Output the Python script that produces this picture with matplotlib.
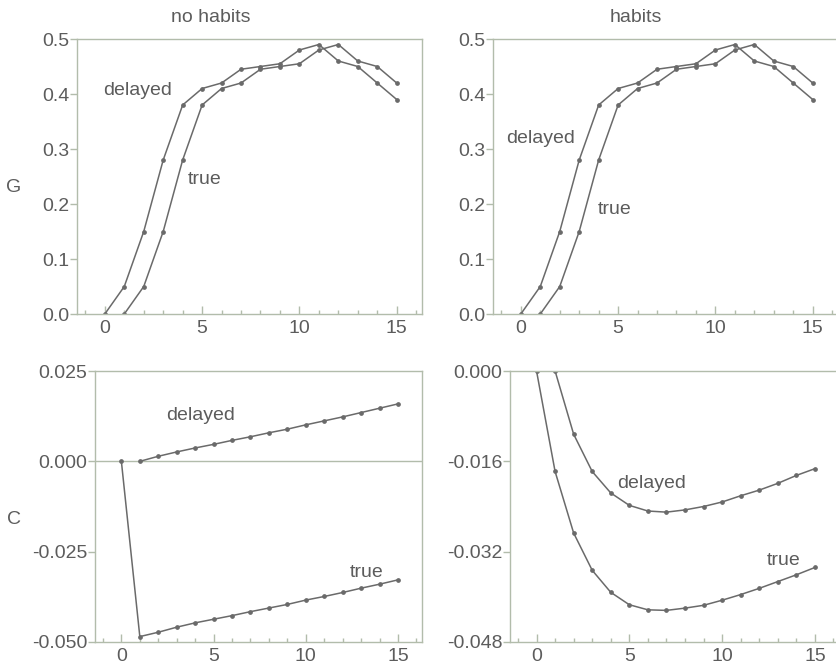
import numpy as np
import matplotlib
matplotlib.use('Agg')
import matplotlib.pyplot as plt
from matplotlib.ticker import MultipleLocator

plt.rcParams['font.family'] = ['Liberation Sans', 'DejaVu Sans']

# G response, same in both columns
g_x_early = np.arange(0, 16)
g_delayed = [0.0, 0.05, 0.15, 0.28, 0.38, 0.41, 0.42, 0.445, 0.45, 0.455,
             0.48, 0.49, 0.46, 0.45, 0.42, 0.39]
g_x_late = np.arange(1, 16)
g_true = [0.0, 0.05, 0.15, 0.28, 0.38, 0.41, 0.42, 0.445, 0.45, 0.455,
          0.48, 0.49, 0.46, 0.45, 0.42]

# C response, no habits
c_nh_x_true = np.arange(0, 16)
c_nh_true = [0.0, -0.0485, -0.0473, -0.0459, -0.0447, -0.0437, -0.0427, -0.0416,
             -0.0406, -0.0396, -0.0384, -0.0374, -0.0363, -0.0351, -0.034, -0.0328]
c_nh_x_del = np.arange(1, 16)
c_nh_delayed = [0.0, 0.0014, 0.0026, 0.0037, 0.0047, 0.0058, 0.0068, 0.0079,
                0.0089, 0.0101, 0.0112, 0.0123, 0.0135, 0.0147, 0.0159]

# C response, habits
c_h_x_true = np.arange(0, 16)
c_h_true = [0.0, -0.0178, -0.0287, -0.0353, -0.0392, -0.0414, -0.0423, -0.0424,
            -0.0420, -0.0415, -0.0406, -0.0396, -0.0385, -0.0373, -0.0361, -0.0348]
c_h_x_del = np.arange(1, 16)
c_h_delayed = [0.0, -0.0112, -0.0178, -0.0216, -0.0238, -0.0248, -0.025, -0.0246,
               -0.024, -0.0232, -0.0221, -0.0211, -0.0199, -0.0185, -0.0173]

line_col = '#6a6a6a'
frame_col = '#b2bcab'
text_col = '#5c5c5c'
fs = 14

fig = plt.figure(figsize=(8.36, 6.70), dpi=100)
W, H = 836, 670


def make_ax(left, right, top, bottom):
    return fig.add_axes([left / W, 1 - bottom / H, (right - left) / W, (bottom - top) / H])


def style(ax, ylim, yticks, yfmt):
    ax.set_xlim(-1.43, 16.3)
    ax.set_ylim(*ylim)
    ax.set_yticks(yticks)
    ax.set_yticklabels([yfmt % v for v in yticks])
    ax.set_xticks([0, 5, 10, 15])
    ax.xaxis.set_minor_locator(MultipleLocator(1))
    for s in ax.spines.values():
        s.set_color(frame_col)
        s.set_linewidth(1.0)
    ax.tick_params(axis='x', direction='in', length=6, width=1, color=frame_col,
                   labelsize=fs, labelcolor=text_col, pad=4)
    ax.tick_params(axis='x', which='minor', direction='in', length=3, width=1, color=frame_col)
    ax.tick_params(axis='y', direction='out', length=5, width=1, color=frame_col,
                   labelsize=fs, labelcolor=text_col, pad=0.5)


def draw(ax, x, y):
    ax.plot(x, y, color=line_col, lw=1.1, marker='o', ms=2.4, mfc=line_col, mec=line_col)


ax1 = make_ax(77, 422, 39, 314)
ax2 = make_ax(493, 838, 39, 314)
ax3 = make_ax(95, 422, 371, 642)
ax4 = make_ax(510, 839, 371, 642)

for ax in (ax1, ax2):
    style(ax, (0, 0.5), [0.0, 0.1, 0.2, 0.3, 0.4, 0.5], '%.1f')
    draw(ax, g_x_early, g_delayed)
    draw(ax, g_x_late, g_true)

style(ax3, (-0.05, 0.025), [-0.05, -0.025, 0.0, 0.025], '%.3f')
ax3.axhline(0, color=frame_col, lw=1.0, zorder=1)
draw(ax3, c_nh_x_true, c_nh_true)
draw(ax3, c_nh_x_del, c_nh_delayed)

style(ax4, (-0.048, 0.0), [-0.048, -0.032, -0.016, 0.0], '%.3f')
draw(ax4, c_h_x_true, c_h_true)
draw(ax4, c_h_x_del, c_h_delayed)

ax1.text(1.7, 0.406, 'delayed', color=text_col, fontsize=fs, ha='center', va='center')
ax1.text(5.15, 0.244, 'true', color=text_col, fontsize=fs, ha='center', va='center')
ax2.text(1.0, 0.32, 'delayed', color=text_col, fontsize=fs, ha='center', va='center')
ax2.text(4.8, 0.19, 'true', color=text_col, fontsize=fs, ha='center', va='center')
ax3.text(4.3, 0.0128, 'delayed', color=text_col, fontsize=fs, ha='center', va='center')
ax3.text(13.3, -0.0307, 'true', color=text_col, fontsize=fs, ha='center', va='center')
ax4.text(6.2, -0.0199, 'delayed', color=text_col, fontsize=fs, ha='center', va='center')
ax4.text(13.3, -0.0335, 'true', color=text_col, fontsize=fs, ha='center', va='center')

fig.text(211 / W, 1 - 17 / H, 'no habits', color=text_col, fontsize=fs, ha='center', va='center')
fig.text(636 / W, 1 - 17 / H, 'habits', color=text_col, fontsize=fs, ha='center', va='center')
fig.text(14 / W, 1 - 188 / H, 'G', color=text_col, fontsize=fs, ha='center', va='center')
fig.text(14 / W, 1 - 520 / H, 'C', color=text_col, fontsize=fs, ha='center', va='center')

fig.savefig('out.png', dpi=100)
